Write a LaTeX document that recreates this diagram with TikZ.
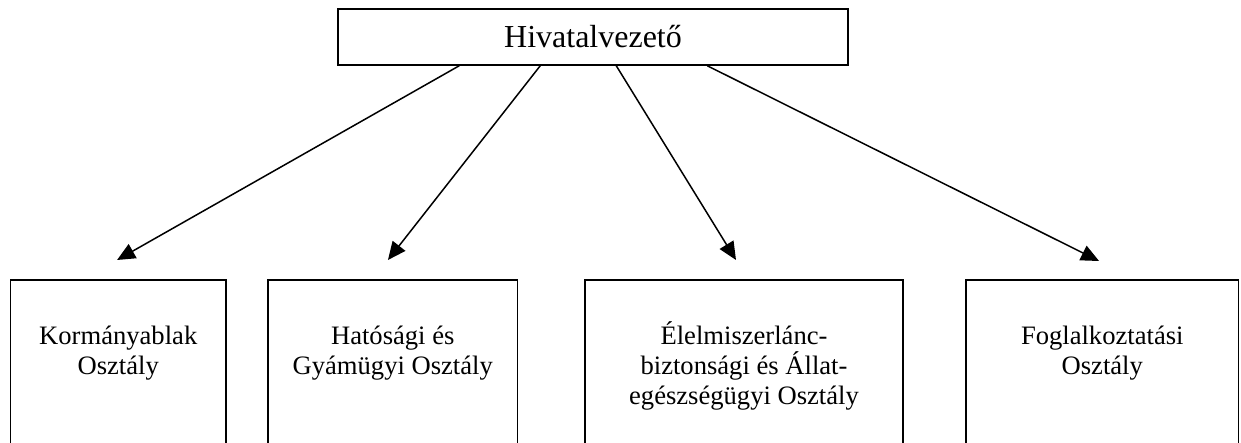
\documentclass[tikz,border=0pt]{standalone}
\usepackage{fontspec}
\setmainfont{Liberation Serif}
\usetikzlibrary{arrows.meta}
\tikzset{
  dbox/.style={draw, line width=0.75pt, rectangle, anchor=north, minimum height=110pt, inner sep=0pt},
  tbox/.style={draw, line width=0.75pt, rectangle, minimum width=255pt, minimum height=28pt, inner sep=0pt},
  lbl/.style={align=center, anchor=base, inner sep=0pt, font=\fontsize{13.3}{15}\selectfont},
  conn/.style={line width=0.75pt, -{Triangle[length=9pt,width=8pt]}}
}
\begin{document}
\begin{tikzpicture}[x=0.5pt,y=-0.5pt]
\useasboundingbox (0,0) rectangle (1241,443);
\clip (0,0) rectangle (1241,443);
\node[tbox] (title) at (593,37) {};
\node[anchor=base, inner sep=0pt, font=\fontsize{16}{19}\selectfont] (tt) at (593,48) {Hivatalvezető};
\node[dbox, minimum width=107.75pt] (k1) at (118.25,279) {};
\node[dbox, minimum width=124.75pt] (k2) at (392.75,279) {};
\node[dbox, minimum width=159pt] (k3) at (744,279) {};
\node[dbox, minimum width=136.25pt] (k4) at (1102.25,279) {};
% base anchor = baseline of the last line; first lines sit at about y=344
\node[lbl] (t1) at (118.25,374) {Kormányablak\\Osztály};
\node[lbl] (t2) at (392.75,374) {Hatósági és\\Gyámügyi Osztály};
\node[lbl] (t3) at (744,404) {Élelmiszerlánc-\\biztonsági és Állat-\\egészségügyi Osztály};
\node[lbl] (t4) at (1102.25,374) {Foglalkoztatási\\Osztály};
\draw[conn] ([xshift=61pt]title.south west) -- ([xshift=-0.6pt,yshift=9.5pt]k1.north);
\draw[conn] ([xshift=101.5pt]title.south west) -- ([xshift=-2.4pt,yshift=9.5pt]k2.north);
\draw[conn] ([xshift=139.5pt]title.south west) -- ([xshift=-4pt,yshift=9.5pt]k3.north);
\draw[conn] ([xshift=185pt]title.south west) -- ([xshift=-1.6pt,yshift=9pt]k4.north);
\end{tikzpicture}
\end{document}
